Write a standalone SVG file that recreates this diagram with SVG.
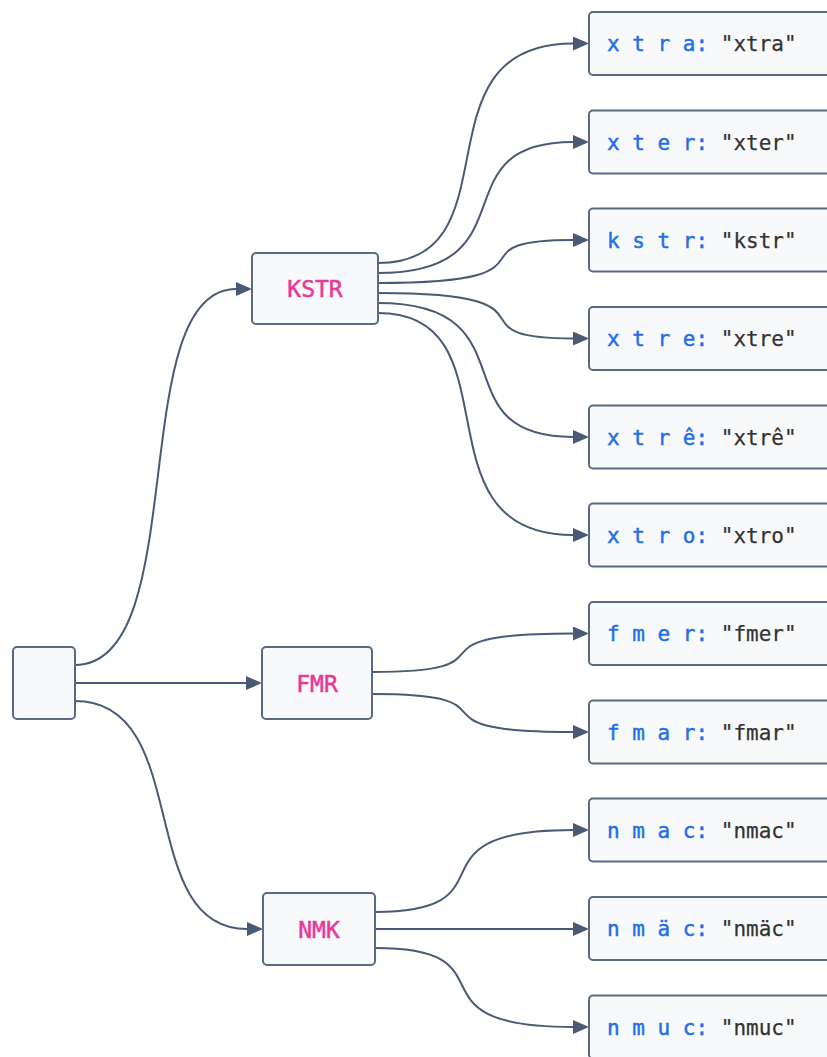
<svg xmlns="http://www.w3.org/2000/svg" width="827" height="1057" viewBox="0 0 827 1057">
<style>
.box{fill:#f8f9fa;stroke:#5a6a82;stroke-width:2}
.edge{fill:none;stroke:#4a5a75;stroke-width:2;marker-end:url(#arr)}
.title{font-family:"DejaVu Sans Mono","Liberation Mono",monospace;font-size:23px;fill:#e8399a;stroke:#e8399a;stroke-width:0.5;text-anchor:middle}
.leaf{font-family:"DejaVu Sans Mono","Liberation Mono",monospace;font-size:21px;white-space:pre}
.k{fill:#1f6fe8;stroke:#1f6fe8;stroke-width:0.45}
.v{fill:#333333;stroke:#333333;stroke-width:0.25}
</style>
<defs>
<marker id="arr" markerUnits="userSpaceOnUse" markerWidth="16" markerHeight="14" refX="0" refY="7" orient="auto">
<path d="M0,0 L16,7 L0,14 z" fill="#4a5a75"/>
</marker>
</defs>
<g id="connectors">
<path class="edge" d="M75,665 C193,665 124,289 236,289"/>
<path class="edge" d="M75,683 L246,683"/>
<path class="edge" d="M75,701 C194,701 134,929 247,929"/>
<path class="edge" d="M378,263 C520,263 411,43.5 573,43.5"/>
<path class="edge" d="M378,273 C535,273 436,142 573,142"/>
<path class="edge" d="M378,283 C573,283 443,240 573,240"/>
<path class="edge" d="M378,293 C573,293 443,338.5 573,338.5"/>
<path class="edge" d="M378,303 C535,303 436,437 573,437"/>
<path class="edge" d="M378,313 C520,313 411,535 573,535"/>
<path class="edge" d="M372,672 C526,672 393,633.5 573,633.5"/>
<path class="edge" d="M372,694 C528,694 396,732 573,732"/>
<path class="edge" d="M375,912 C519,912 400,830 573,830"/>
<path class="edge" d="M375,929 L573,929"/>
<path class="edge" d="M375,948 C519,948 400,1027 573,1027"/>
</g>
<g id="root"><rect class="box" x="13" y="647" width="62" height="72" rx="4"/></g>
<g id="kstr"><rect class="box" x="252" y="253" width="126" height="71" rx="4"/><text class="title" x="315" y="297">KSTR</text></g>
<g id="fmr"><rect class="box" x="262" y="647" width="110" height="72" rx="4"/><text class="title" x="317" y="692">FMR</text></g>
<g id="nmk"><rect class="box" x="263" y="893" width="112" height="72" rx="4"/><text class="title" x="319" y="938">NMK</text></g>
<g id="leaf-xtra"><rect class="box" x="589" y="12" width="260" height="63" rx="4"/><text class="leaf" x="607" y="51"><tspan class="k">x t r a:</tspan><tspan class="v"> "xtra"</tspan></text></g>
<g id="leaf-xter"><rect class="box" x="589" y="110.5" width="260" height="63" rx="4"/><text class="leaf" x="607" y="149.5"><tspan class="k">x t e r:</tspan><tspan class="v"> "xter"</tspan></text></g>
<g id="leaf-kstr"><rect class="box" x="589" y="208.5" width="260" height="63" rx="4"/><text class="leaf" x="607" y="247.5"><tspan class="k">k s t r:</tspan><tspan class="v"> "kstr"</tspan></text></g>
<g id="leaf-xtre"><rect class="box" x="589" y="307" width="260" height="63" rx="4"/><text class="leaf" x="607" y="346"><tspan class="k">x t r e:</tspan><tspan class="v"> "xtre"</tspan></text></g>
<g id="leaf-xtre2"><rect class="box" x="589" y="405.5" width="260" height="63" rx="4"/><text class="leaf" x="607" y="444.5"><tspan class="k">x t r ê:</tspan><tspan class="v"> "xtrê"</tspan></text></g>
<g id="leaf-xtro"><rect class="box" x="589" y="503.5" width="260" height="63" rx="4"/><text class="leaf" x="607" y="542.5"><tspan class="k">x t r o:</tspan><tspan class="v"> "xtro"</tspan></text></g>
<g id="leaf-fmer"><rect class="box" x="589" y="602" width="260" height="63" rx="4"/><text class="leaf" x="607" y="641"><tspan class="k">f m e r:</tspan><tspan class="v"> "fmer"</tspan></text></g>
<g id="leaf-fmar"><rect class="box" x="589" y="700.5" width="260" height="63" rx="4"/><text class="leaf" x="607" y="739.5"><tspan class="k">f m a r:</tspan><tspan class="v"> "fmar"</tspan></text></g>
<g id="leaf-nmac"><rect class="box" x="589" y="798.5" width="260" height="63" rx="4"/><text class="leaf" x="607" y="837.5"><tspan class="k">n m a c:</tspan><tspan class="v"> "nmac"</tspan></text></g>
<g id="leaf-nmaec"><rect class="box" x="589" y="897" width="260" height="63" rx="4"/><text class="leaf" x="607" y="936"><tspan class="k">n m ä c:</tspan><tspan class="v"> "nmäc"</tspan></text></g>
<g id="leaf-nmuc"><rect class="box" x="589" y="995.5" width="260" height="63" rx="4"/><text class="leaf" x="607" y="1034.5"><tspan class="k">n m u c:</tspan><tspan class="v"> "nmuc"</tspan></text></g>
</svg>
